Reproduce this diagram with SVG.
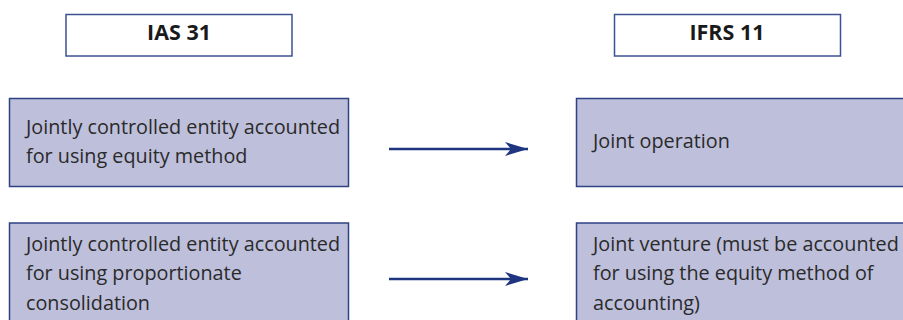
<svg xmlns="http://www.w3.org/2000/svg" width="903" height="320" viewBox="0 0 903 320">
<style>
.hdr{fill:#fff;stroke:#3c5293;stroke-width:1.5}
.box{fill:#bebfdb;stroke:#2e4284;stroke-width:1.5}
.ht{font-family:"Open Sans","Liberation Sans",sans-serif;font-weight:bold;font-size:21.5px;fill:#1a1a1a;text-anchor:middle}
.bt{font-family:"Open Sans","Liberation Sans",sans-serif;font-size:19.8px;fill:#2a2a2a}
.conn{stroke:#1f3580;stroke-width:2.5;fill:none}
</style>
<defs>
<marker id="ah" markerUnits="userSpaceOnUse" markerWidth="24" markerHeight="16" refX="23" refY="8" orient="auto">
<path d="M0,1 L23,8 L0,15 L6,8 Z" fill="#1f3580"/>
</marker>
</defs>
<g id="ias31">
<rect class="hdr" x="66" y="14.5" width="226" height="41.5"/>
<text class="ht" x="179" y="40">IAS 31</text>
</g>
<g id="ifrs11">
<rect class="hdr" x="614.5" y="14.5" width="226" height="41.5"/>
<text class="ht" x="727" y="40">IFRS 11</text>
</g>
<g id="left1">
<rect class="box" x="9.5" y="98.5" width="339" height="88"/>
<text class="bt" x="26" y="133.5">Jointly controlled entity accounted</text>
<text class="bt" x="26" y="162.5">for using equity method</text>
</g>
<g id="left2">
<rect class="box" x="9.5" y="223" width="339" height="100"/>
<text class="bt" x="26" y="250.5">Jointly controlled entity accounted</text>
<text class="bt" x="26" y="279.5">for using proportionate</text>
<text class="bt" x="26" y="309.5">consolidation</text>
</g>
<g id="right1">
<rect class="box" x="576.5" y="98.5" width="330" height="88"/>
<text class="bt" x="593" y="147.5">Joint operation</text>
</g>
<g id="right2">
<rect class="box" x="576.5" y="223" width="330" height="100"/>
<text class="bt" x="593" y="250.5">Joint venture (must be accounted</text>
<text class="bt" x="593" y="279.5">for using the equity method of</text>
<text class="bt" x="593" y="309.5">accounting)</text>
</g>
<g id="connectors">
<line class="conn" x1="389" y1="149" x2="528" y2="149" marker-end="url(#ah)"/>
<line class="conn" x1="389" y1="279" x2="528" y2="279" marker-end="url(#ah)"/>
</g>
</svg>
